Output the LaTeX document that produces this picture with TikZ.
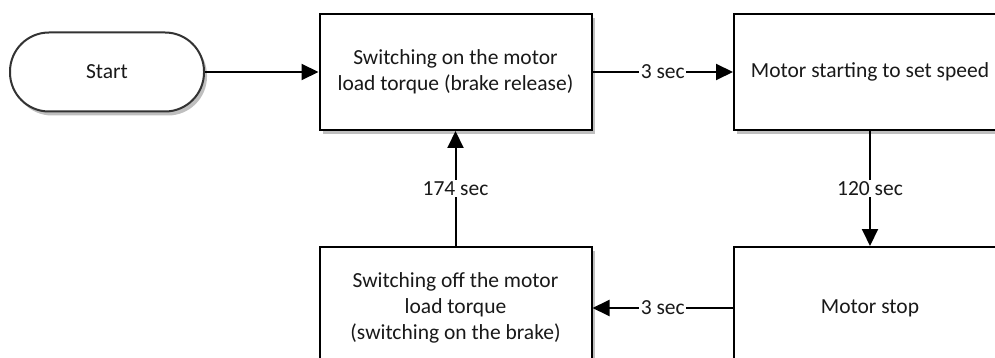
\documentclass[tikz,border=0pt]{standalone}
\usepackage{fontspec}
\setmainfont{Carlito}
\usetikzlibrary{arrows.meta,shadows}
\begin{document}
\begin{tikzpicture}[x=1pt,y=-1pt,
  txt/.style={font=\fontsize{21.5}{26}\selectfont, text=black!90},
  shad/.style={drop shadow={shadow xshift=3pt, shadow yshift=-4pt, opacity=0.25, fill=black}},
  box/.style={txt, draw=black, line width=2pt, fill=white, minimum width=272pt,
    minimum height=116pt, align=center, inner sep=0pt, shad},
  startbox/.style={txt, draw=black!80, line width=2pt, fill=white, rounded corners=39pt,
    minimum width=194pt, minimum height=79pt, inner sep=0pt, shad},
  arr/.style={draw=black, line width=2pt, -{Triangle[length=17pt,width=16pt]}},
  lbl/.style={txt, fill=white, inner sep=1.5pt}]
\useasboundingbox (0,0) rectangle (995,358);
\fill[white] (0,0) rectangle (995,358);
\clip (0,0) rectangle (995,358);
\node[startbox] (s) at (107,72) {Start};
\node[box] (b1) at (455.5,72) {Switching on the motor\\load torque (brake release)};
\node[box] (b2) at (870,72) {Motor starting to set speed};
\node[box, minimum height=122pt] (b3) at (870,308) {Motor stop};
\node[box, minimum height=122pt] (b4) at (455.5,308) {Switching off the motor\\load torque\\(switching on the brake)};
\draw[arr] (s) -- (b1);
\draw[arr] (b1) -- node[lbl]{3 sec} (b2);
\draw[arr] (b2) -- node[lbl]{120 sec} (b3);
\draw[arr] (b3) -- node[lbl]{3 sec} (b4);
\draw[arr] (b4) -- node[lbl]{174 sec} (b1);
\end{tikzpicture}
\end{document}
